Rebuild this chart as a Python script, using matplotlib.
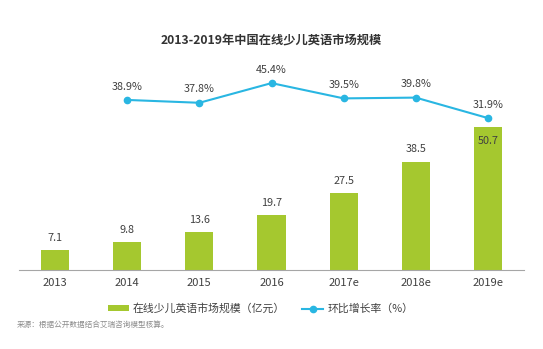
import matplotlib.pyplot as plt

plt.rcParams['font.family'] = ['Noto Sans CJK SC', 'DejaVu Sans']

years = ['2013', '2014', '2015', '2016', '2017e', '2018e', '2019e']
market = [7.1, 9.8, 13.6, 19.7, 27.5, 38.5, 50.7]
growth = [None, 38.9, 37.8, 45.4, 39.5, 39.8, 31.9]

bar_color = '#a5c82f'
line_color = '#29b6e2'
text_color = '#404040'

fig = plt.figure(figsize=(5.43, 3.49), dpi=100)
ax = fig.add_axes([0.035, 0.226, 0.93, 0.573])
ax2 = ax.twinx()

x = list(range(len(years)))
ax.bar(x, market, width=0.39, color=bar_color, label='在线少儿英语市场规模（亿元）')
for i, v in enumerate(market):
    if i == len(market) - 1:
        ax.text(i, v - 3, f'{v}', ha='center', va='top', fontsize=7.8, color=text_color)
    else:
        ax.text(i, v + 2.5, f'{v}', ha='center', va='bottom', fontsize=7.8, color=text_color)
ax.set_xlim(-0.5, 6.5)
ax.set_ylim(0, 70.9)

gx = [i for i, g in enumerate(growth) if g is not None]
gy = [g for g in growth if g is not None]
ax2.plot(gx, gy, color=line_color, lw=1.5, marker='o', ms=4.5, label='环比增长率（%）')
for i, g in zip(gx, gy):
    ax2.text(i, g + 3.2, f'{g}%', ha='center', va='bottom', fontsize=7.8, color=text_color)
ax2.set_ylim(-26.8, 50.4)

for a in (ax, ax2):
    for s in ['top', 'right', 'left']:
        a.spines[s].set_visible(False)
    a.set_yticks([])
ax.spines['bottom'].set_color('#a6a6a6')
ax2.spines['bottom'].set_visible(False)
ax.set_xticks(x)
ax.set_xticklabels(years, fontsize=8, color=text_color)
ax.tick_params(axis='x', length=0, pad=6)

fig.text(0.5, 0.885, '2013-2019年中国在线少儿英语市场规模', ha='center', va='center',
         fontsize=8.8, fontweight='bold', color='#333333')

h1, l1 = ax.get_legend_handles_labels()
h2, l2 = ax2.get_legend_handles_labels()
fig.legend(h1 + h2, l1 + l2, loc='center', bbox_to_anchor=(0.48, 0.115), ncol=2,
           frameon=False, fontsize=7.8, handlelength=1.9, handleheight=0.45,
           handletextpad=0.4, columnspacing=1.6, labelcolor=text_color)

fig.text(0.03, 0.068, '来源：根据公开数据结合艾瑞咨询模型核算。', ha='left', va='center',
         fontsize=5.5, color='#8c8c8c')

fig.savefig('out.png', dpi=100, facecolor='white')
